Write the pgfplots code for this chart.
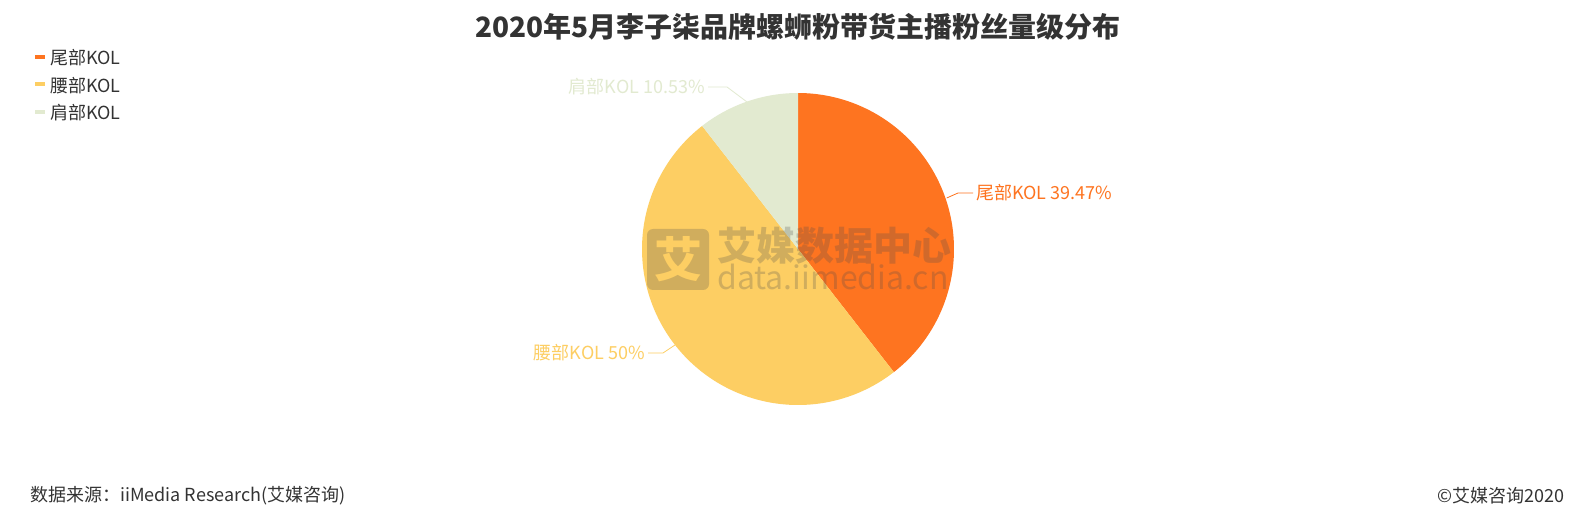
\documentclass[border=0pt]{standalone}
\usepackage{fontspec}
\setmainfont{Noto Sans CJK SC}
\usepackage{pgfplots}
\pgfplotsset{compat=1.18}
\usepgfplotslibrary{polar}
\definecolor{cwei}{HTML}{FE7420}
\definecolor{cyao}{HTML}{FDCE63}
\definecolor{cjian}{HTML}{E2EAD0}
\definecolor{ctext}{HTML}{333333}
\definecolor{wm}{RGB}{76,76,76}
% shares in percent: wei 39.47, yao 50, jian 10.53 (clockwise from 12 o'clock)
\begin{document}
\begin{tikzpicture}[x=1pt,y=1pt]
\path[fill=white] (0,0) rectangle (1596,520);
\begin{polaraxis}[at={(798pt,271pt)}, anchor=center, hide axis,
    scale only axis, width=312pt, height=312pt,
    xmin=0, xmax=360, ymin=0, ymax=1, clip=false]
  \addplot[draw=none, fill=cwei, domain=90-39.47*3.6:90, samples=120] {1} -- (axis cs:0,0) -- cycle;
  \addplot[draw=none, fill=cyao, domain=90-89.47*3.6:90-39.47*3.6, samples=150] {1} -- (axis cs:0,0) -- cycle;
  \addplot[draw=none, fill=cjian, domain=-270:90-89.47*3.6, samples=60] {1} -- (axis cs:0,0) -- cycle;
\end{polaraxis}
% watermark
\fill[wm, opacity=0.25, rounded corners=6pt] (647,230) rectangle (709,291);
\node[text=cyao, font=\bfseries\fontsize{48}{50}\selectfont] at (678,260.5) {艾};
\node[anchor=base west, text=wm, opacity=0.25, font=\bfseries\fontsize{39}{40}\selectfont, inner sep=0pt] at (717,259) {艾媒数据中心};
\node[anchor=base west, text=wm, opacity=0.25, font=\fontsize{32}{34}\selectfont, inner sep=0pt] at (717,230) {data.iimedia.cn};
% title
\node[text=ctext, font=\bfseries\fontsize{28}{32}\selectfont] at (798,493.5) {2020年5月李子柒品牌螺蛳粉带货主播粉丝量级分布};
% labels
\draw[cwei, line width=0.8pt] (946.7,322) -- (958,327) -- (973,327);
\node[anchor=west, inner sep=0pt, text=cwei, font=\fontsize{18}{21}\selectfont] at (976,327) {尾部KOL 39.47\%};
\draw[cyao, line width=0.8pt] (675,175) -- (663,167) -- (648,167);
\node[anchor=east, inner sep=0pt, text=cyao, font=\fontsize{18}{21}\selectfont] at (645,167) {腰部KOL 50\%};
\draw[cjian, line width=0.8pt] (747,418) -- (727,433) -- (708,433);
\node[anchor=east, inner sep=0pt, text=cjian, font=\fontsize{18}{21}\selectfont] at (705,433) {肩部KOL 10.53\%};
% legend
\fill[cwei] (35,461) rectangle (45,465);
\node[anchor=west, inner sep=0pt, text=ctext, font=\fontsize{18}{21}\selectfont] at (50,462) {尾部KOL};
\fill[cyao] (35,434) rectangle (45,438);
\node[anchor=west, inner sep=0pt, text=ctext, font=\fontsize{18}{21}\selectfont] at (50,434.5) {腰部KOL};
\fill[cjian] (35,406) rectangle (45,410);
\node[anchor=west, inner sep=0pt, text=ctext, font=\fontsize{18}{21}\selectfont] at (50,407) {肩部KOL};
% footer
\node[anchor=west, inner sep=0pt, text=ctext, font=\fontsize{18}{21}\selectfont] at (30,24) {数据来源：iiMedia Research(艾媒咨询)};
\node[anchor=east, inner sep=0pt, text=ctext, font=\fontsize{18}{21}\selectfont] at (1565,24) {©艾媒咨询2020};
\end{tikzpicture}
\end{document}
